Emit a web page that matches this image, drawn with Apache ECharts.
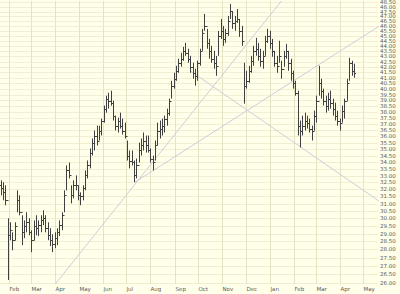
<!DOCTYPE html>
<html><head><meta charset="utf-8">
<script src="https://cdn.jsdelivr.net/npm/echarts@6/dist/echarts.min.js"></script>
<style>html,body{margin:0;padding:0;background:#ffffea;}#c{width:400px;height:294px;}</style>
</head><body><div id="c"></div>
<script>
// ---- data ----
const startDate = [2006, 0, 21];   // first bar
const stepDays = 3;                // calendar days between bars
const high = [32.65,32.51,32.29,30.01,29.74,29.09,29.74,31.93,31.58,30.21,
29.87,30.41,30.01,29.22,29.87,30.21,29.87,30.21,30.54,30.21,
29.74,29.35,28.96,29.09,29.35,29.87,30.41,31.93,33.75,33.97,
32.29,32.65,33.01,32.29,31.79,32.29,33.38,34.12,35.05,35.83,
36.47,36.87,36.87,37.45,38.55,39.41,39.67,39.85,38.97,37.70,
37.53,37.95,37.45,37.12,35.67,34.89,34.89,34.12,34.27,35.51,
35.83,36.31,36.07,36.07,35.05,34.50,35.67,37.12,37.29,37.45,
37.70,38.29,39.15,40.74,41.47,42.12,42.78,43.35,43.93,44.32,
43.74,43.06,42.40,41.84,42.59,43.74,45.72,47.26,45.72,44.71,
44.03,43.54,43.06,45.52,46.74,46.02,45.72,47.05,48.32,47.57,
47.05,47.78,46.74,46.02,42.40,41.65,42.12,43.06,44.03,44.81,
44.32,43.74,43.54,45.01,45.72,45.52,44.71,43.54,43.06,44.52,
42.59,43.54,44.22,43.54,42.78,41.65,40.74,39.85,37.29,37.70,
37.95,37.70,37.45,36.87,38.12,39.41,42.12,40.92,40.03,39.41,
39.67,39.85,39.15,38.80,38.12,37.45,38.55,39.15,40.92,42.87,
42.59,42.31];
const low = [31.58,31.23,30.89,26.16,28.58,27.95,28.58,30.41,30.21,28.27,
28.71,29.09,28.90,27.83,28.58,28.90,28.84,29.09,29.55,29.09,
28.58,28.21,27.83,28.08,28.27,28.84,29.22,30.41,31.93,32.79,
31.02,31.37,31.93,31.23,30.89,31.23,31.93,32.79,33.53,34.50,
34.89,35.28,35.67,36.07,37.12,37.95,38.29,38.55,37.29,36.47,
36.31,36.63,36.15,35.83,34.12,33.53,33.75,32.51,32.79,33.97,
34.50,34.89,34.73,34.73,33.97,33.38,34.12,35.28,35.83,36.07,
36.31,36.87,37.70,39.15,40.03,40.74,41.47,42.03,42.59,43.06,
42.40,41.47,40.92,40.29,40.74,42.12,43.54,45.52,43.74,42.78,
42.40,41.84,41.19,43.06,44.71,44.03,44.32,45.01,46.74,45.72,
45.52,46.33,44.91,44.03,38.72,40.03,40.56,41.47,42.12,43.06,
42.59,42.03,41.84,43.06,44.32,43.74,42.97,42.03,41.47,42.40,
40.92,42.03,42.78,41.65,40.74,40.03,39.41,36.07,35.12,36.07,
36.47,36.63,36.31,35.67,36.47,37.12,39.41,39.15,38.55,37.95,
38.12,38.29,37.70,37.29,36.87,36.47,37.12,37.45,38.97,40.74,
41.19,41.01];
const close = [32.07,31.79,31.23,28.90,29.22,28.58,29.48,31.23,30.41,29.09,
29.48,29.74,29.09,28.58,29.48,29.35,29.55,29.87,30.01,29.35,
28.90,28.58,28.33,28.71,29.09,29.55,30.21,31.58,33.38,33.01,
31.58,32.29,32.29,31.58,31.51,32.07,33.01,33.75,34.73,35.51,
36.07,35.67,36.47,37.29,38.29,39.15,38.97,38.80,37.70,36.87,
37.29,36.87,36.47,36.07,34.50,34.12,33.97,33.01,33.75,34.89,
35.28,35.67,35.28,34.89,34.27,33.97,35.28,36.47,36.63,36.87,
37.45,37.95,38.97,40.29,40.92,41.65,42.40,42.78,43.54,43.35,
42.78,42.03,41.47,41.19,42.40,43.54,45.31,46.02,44.32,43.54,
42.78,42.40,42.12,45.01,45.52,44.71,45.31,46.53,47.57,46.33,
46.53,46.74,45.52,44.52,40.29,40.74,41.65,42.59,43.54,43.74,
43.06,42.59,43.06,44.52,45.01,44.32,43.54,42.40,42.12,43.06,
41.84,43.06,43.54,42.40,41.47,40.56,39.67,36.87,36.47,36.87,
37.29,37.12,36.63,36.47,37.70,38.97,40.56,39.85,38.97,38.55,
39.15,38.80,38.29,37.70,37.29,37.12,38.12,38.97,40.56,42.40,
41.65,41.47];
const firstOpen = 32.30;

const priceTicks = [26.00,26.50,27.00,27.50,28.00,28.50,29.00,29.50,30.00,30.50,
31.00,31.50,32.00,32.50,33.00,33.50,34.00,34.50,35.00,35.50,
36.00,36.50,37.00,37.50,38.00,38.50,39.00,39.50,40.00,40.50,
41.00,41.50,42.00,42.50,43.00,43.50,44.00,44.50,45.00,45.50,
46.00,46.50,47.00,47.50,48.00,48.50];
const monthTicks = ['2006-02-01','2006-03-01','2006-04-01','2006-05-01','2006-06-01','2006-07-01',
'2006-08-01','2006-09-01','2006-10-01','2006-11-01','2006-12-01','2007-01-01',
'2007-02-01','2007-03-01','2007-04-01','2007-05-01'];
const monthLabels = ['Feb','Mar','Apr','May','Jun','Jul','Aug','Sep','Oct','Nov','Dec','Jan','Feb','Mar','Apr','May'];

const trendSteep = [['2006-04-01', 25.93], ['2007-01-16', 48.64]];
const trendShallow = [['2006-07-12', 32.51], ['2007-05-28', 46.33]];
const trendDown = [['2006-09-21', 41.65], ['2007-06-15', 30.27]];

const xMin = '2006-01-20', xMax = '2007-05-20';
const yMin = 25.93, yMax = 48.64;

// ---- build ----
function parseD(s){ const p = s.split('-').map(Number); return new Date(p[0], p[1]-1, p[2]).getTime(); }
const bars = high.map((h, i) => {
  const t = new Date(startDate[0], startDate[1], startDate[2] + stepDays * i).getTime();
  const o = i === 0 ? firstOpen : close[i-1];
  return [t, o, h, low[i], close[i]];
});
const tMin = parseD(xMin), tMax = parseD(xMax);

const chart = echarts.init(document.getElementById('c'), null, {renderer: 'svg'});
const barColor = '#404040';
const hGrid = '#f1eed3', vGrid = '#e6e2c4';
const labelColor = '#5a5a5a';
const font = 'DejaVu Sans';

chart.setOption({
  backgroundColor: '#ffffea',
  animation: false,
  grid: {left: 0, right: 22, top: 1, bottom: 10},
  xAxis: {type: 'time', min: tMin, max: tMax, show: true,
    axisLine: {show: false}, axisTick: {show: false}, axisLabel: {show: false}, splitLine: {show: false}},
  yAxis: {type: 'log', logBase: 10, min: yMin, max: yMax, position: 'right',
    axisLine: {show: false}, axisTick: {show: false}, axisLabel: {show: false}, splitLine: {show: false}},
  series: [
    { // horizontal grid + price labels
      type: 'custom', z: 1, silent: true,
      data: priceTicks.map(v => [tMin, v]),
      renderItem: (params, api) => {
        const v = api.value(1);
        const a = api.coord([tMin, v]);
        const b = api.coord([tMax, v]);
        const y = Math.round(a[1]) + 0.5;
        return {type: 'group', children: [
          {type: 'line', shape: {x1: a[0], y1: y, x2: b[0], y2: y}, style: {stroke: hGrid, lineWidth: 1}},
          {type: 'text', style: {text: v.toFixed(2), x: b[0] + 2, y: a[1], fill: labelColor,
            fontSize: 5.5, lineHeight: 4, fontFamily: font, align: 'left', verticalAlign: 'middle'}}
        ]};
      }
    },
    { // month grid + labels
      type: 'custom', z: 1, silent: true,
      data: monthTicks.map(d => [parseD(d), yMin]),
      renderItem: (params, api) => {
        const t = api.value(0);
        const a = api.coord([t, yMax]);
        const b = api.coord([t, yMin]);
        const x = Math.round(a[0]) + 0.5;
        return {type: 'group', children: [
          {type: 'line', shape: {x1: x, y1: a[1], x2: x, y2: b[1]}, style: {stroke: vGrid, lineWidth: 1}},
          {type: 'text', style: {text: monthLabels[params.dataIndex], x: x, y: b[1] + 5, fill: labelColor,
            fontSize: 5.5, fontFamily: font, align: 'left', verticalAlign: 'middle'}}
        ]};
      }
    },
    {type: 'line', z: 2, data: trendSteep.map(p => [parseD(p[0]), p[1]]), symbol: 'none', clip: false, silent: true,
      lineStyle: {color: '#cdcddc', width: 1}},
    {type: 'line', z: 2, data: trendShallow.map(p => [parseD(p[0]), p[1]]), symbol: 'none', clip: false, silent: true,
      lineStyle: {color: '#cdcddc', width: 1}},
    {type: 'line', z: 2, data: trendDown.map(p => [parseD(p[0]), p[1]]), symbol: 'none', clip: false, silent: true,
      lineStyle: {color: '#cdcddc', width: 1}},
    { // OHLC bars
      type: 'custom', z: 3, silent: true,
      dimensions: ['date', 'open', 'high', 'low', 'close'],
      encode: {x: 0, y: [1, 2, 3, 4]},
      data: bars,
      renderItem: (params, api) => {
        const t = api.value(0);
        const ph = api.coord([t, api.value(2)]);
        const pl = api.coord([t, api.value(3)]);
        const po = api.coord([t, api.value(1)]);
        const pc = api.coord([t, api.value(4)]);
        const x = Math.round(ph[0]) + 0.5;
        const st = {stroke: barColor, lineWidth: 1};
        return {type: 'group', children: [
          {type: 'line', shape: {x1: x, y1: ph[1], x2: x, y2: pl[1]}, style: st},
          {type: 'line', shape: {x1: x - 1.5, y1: Math.round(po[1]) + 0.5, x2: x, y2: Math.round(po[1]) + 0.5}, style: st},
          {type: 'line', shape: {x1: x, y1: Math.round(pc[1]) + 0.5, x2: x + 1.5, y2: Math.round(pc[1]) + 0.5}, style: st}
        ]};
      }
    }
  ]
});
</script></body></html>
